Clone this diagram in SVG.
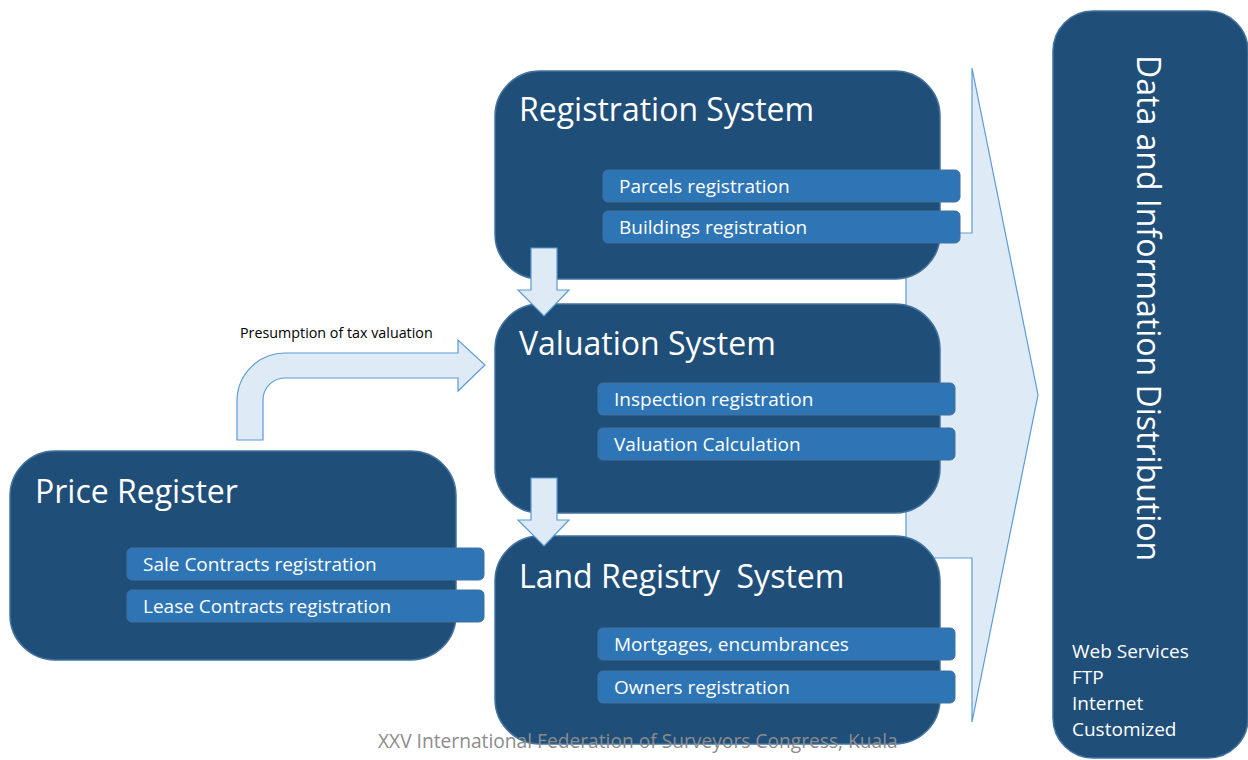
<svg xmlns="http://www.w3.org/2000/svg" width="1248" height="760" viewBox="0 0 1248 760">
<style>
.box{fill:#1F4E79;stroke:#41719C;stroke-width:1.5}
.bar{fill:#2E75B6;stroke:#41719C;stroke-width:1}
.arr{fill:#DEEBF7;stroke:#5B9BD5;stroke-width:1.2}
text{font-family:"Open Sans","Noto Sans","DejaVu Sans",sans-serif;fill:#FFFFFF}
.title{font-size:32px}
.item{font-size:19px}
.label{font-size:14.3px;fill:#000000}
.foot{font-size:19.2px;fill:#8C8C8C}
</style>
<rect width="1248" height="760" fill="#FFFFFF"/>
<g id="connectors">
<polygon id="distribution-arrow" class="arr" points="906,233 972,233 972,68 1038,395 972,722 972,558 906,558"/>
</g>
<g id="registration-system">
<rect class="box" x="495" y="71" width="445" height="208" rx="45"/>
<text class="title" x="519" y="121">Registration System</text>
<rect class="bar" x="603" y="170" width="357" height="32" rx="5"/>
<text class="item" x="619" y="193">Parcels registration</text>
<rect class="bar" x="603" y="211" width="357" height="32" rx="5"/>
<text class="item" x="619" y="234">Buildings registration</text>
</g>
<g id="valuation-system">
<rect class="box" x="495" y="304" width="445" height="209" rx="45"/>
<text class="title" x="519" y="355">Valuation System</text>
<rect class="bar" x="598" y="383" width="357" height="32" rx="5"/>
<text class="item" x="614" y="406">Inspection registration</text>
<rect class="bar" x="598" y="428" width="357" height="32" rx="5"/>
<text class="item" x="614" y="451">Valuation Calculation</text>
</g>
<g id="land-registry-system">
<rect class="box" x="495" y="536" width="445" height="208" rx="45"/>
<text class="title" x="519" y="588" xml:space="preserve">Land Registry  System</text>
<rect class="bar" x="598" y="628" width="357" height="32" rx="5"/>
<text class="item" x="614" y="651">Mortgages, encumbrances</text>
<rect class="bar" x="598" y="671" width="357" height="32" rx="5"/>
<text class="item" x="614" y="694">Owners registration</text>
</g>
<g id="price-register">
<rect class="box" x="10" y="451" width="446" height="209" rx="45"/>
<text class="title" x="35" y="503">Price Register</text>
<rect class="bar" x="127" y="548" width="357" height="32" rx="5"/>
<text class="item" x="143" y="571">Sale Contracts registration</text>
<rect class="bar" x="127" y="590" width="357" height="32" rx="5"/>
<text class="item" x="143" y="613">Lease Contracts registration</text>
</g>
<g id="data-distribution">
<rect class="box" x="1053" y="11" width="195" height="747" rx="40"/>
<text class="title" transform="translate(1137,55) rotate(90)">Data and Information Distribution</text>
<text class="item" x="1072" y="658">Web Services</text>
<text class="item" x="1072" y="684">FTP</text>
<text class="item" x="1072" y="710">Internet</text>
<text class="item" x="1072" y="736">Customized</text>
</g>
<g id="flow-arrows">
<path class="arr" d="M531 248 L557 248 L557 290 L569 290 L544 316 L518 290 L531 290 Z"/>
<path class="arr" d="M531 478 L557 478 L557 520 L569 520 L544 546 L518 520 L531 520 Z"/>
<path class="arr" d="M237 440 L237 401 A48 48 0 0 1 285 353 L458 353 L458 340 L485 365 L458 391 L458 378 L285 378 A22 22 0 0 0 263 400 L263 440 Z"/>
<text class="label" x="240" y="338">Presumption of tax valuation</text>
</g>
<text class="foot" x="378" y="748">XXV International Federation of Surveyors Congress, Kuala</text>
</svg>
